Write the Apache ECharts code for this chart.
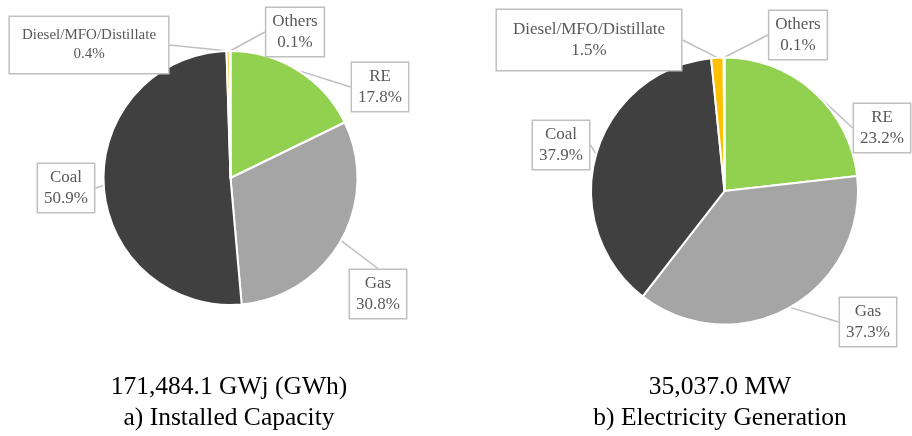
<!DOCTYPE html>
<html>
<head>
<meta charset="utf-8">
<script src="https://cdn.jsdelivr.net/npm/echarts@6/dist/echarts.min.js"></script>
<style>
  html, body { margin: 0; padding: 0; background: #fff; }
  #chart { width: 912px; height: 436px; }
</style>
</head>
<body>
<div id="chart"></div>
<script>
// Fuel categories, listed clockwise from 12 o'clock
const categories = ['RE', 'Gas', 'Coal', 'Diesel/MFO/Distillate', 'Others'];

// Shares (%) of each fuel
const capacityShares = [17.8, 30.8, 50.9, 0.4, 0.1];
const generationShares = [23.2, 37.3, 37.9, 1.5, 0.1];

// Caption lines under each pie
const capacityCaption = ['171,484.1 GWj (GWh)', 'a) Installed Capacity'];
const generationCaption = ['35,037.0 MW', 'b) Electricity Generation'];

const fuelColors = {
  'RE': '#92d050',
  'Gas': '#a5a5a5',
  'Coal': '#404040',
  'Diesel/MFO/Distillate': '#ffc000',
  'Others': '#f2f2f2'
};

const SERIF = '"Liberation Serif", "DejaVu Serif", serif';

// Callout box centres (px) for each pie, in category order
const calloutPos = [
  [[380, 87], [378, 294], [66, 188], [89, 45], [295, 32]],
  [[882, 128], [868, 322], [561, 145], [589, 40], [798, 35]]
];

function buildData(values, seriesIdx) {
  return categories.map((name, i) => {
    const item = {
      name: name,
      value: values[i],
      itemStyle: { color: fuelColors[name] }
    };
    if (name === 'Diesel/MFO/Distillate') {
      item.label = seriesIdx === 0
        ? { fontSize: 15, lineHeight: 19, padding: [9, 12] }
        : { padding: [9, 16] };
    }
    return item;
  });
}

function pieSeries(values, center, radius, seriesIdx) {
  return {
    type: 'pie',
    center: center,
    radius: radius,
    startAngle: 90,
    clockwise: true,
    avoidLabelOverlap: false,
    animation: false,
    silent: true,
    itemStyle: { borderColor: '#ffffff', borderWidth: 2 },
    label: {
      show: true,
      position: 'outside',
      formatter: p => p.name + '\n' + p.value.toFixed(1) + '%',
      fontFamily: SERIF,
      fontSize: 17,
      lineHeight: 21,
      color: '#595959',
      align: 'center',
      backgroundColor: '#ffffff',
      borderColor: '#bfbfbf',
      borderWidth: 1.5,
      padding: [3, 6]
    },
    labelLine: {
      show: true,
      length: 10,
      length2: 0,
      lineStyle: { color: '#bfbfbf', width: 1.5 }
    },
    labelLayout: function (params) {
      const pos = calloutPos[seriesIdx][params.dataIndex];
      return { x: pos[0], y: pos[1], align: 'center', verticalAlign: 'middle' };
    },
    data: buildData(values, seriesIdx)
  };
}

function captionText(lines, x) {
  return {
    type: 'text',
    silent: true,
    style: {
      text: lines.join('\n'),
      x: x,
      y: 403,
      align: 'center',
      verticalAlign: 'middle',
      fontFamily: SERIF,
      fontSize: 25.5,
      lineHeight: 31,
      fill: '#000000'
    }
  };
}

const chart = echarts.init(document.getElementById('chart'), null, { renderer: 'canvas' });
chart.setOption({
  backgroundColor: '#ffffff',
  animation: false,
  series: [
    pieSeries(capacityShares, [230.5, 178], 127, 0),
    pieSeries(generationShares, [724.5, 191], 133.5, 1)
  ],
  graphic: [
    captionText(capacityCaption, 229),
    captionText(generationCaption, 720)
  ]
});
</script>
</body>
</html>
